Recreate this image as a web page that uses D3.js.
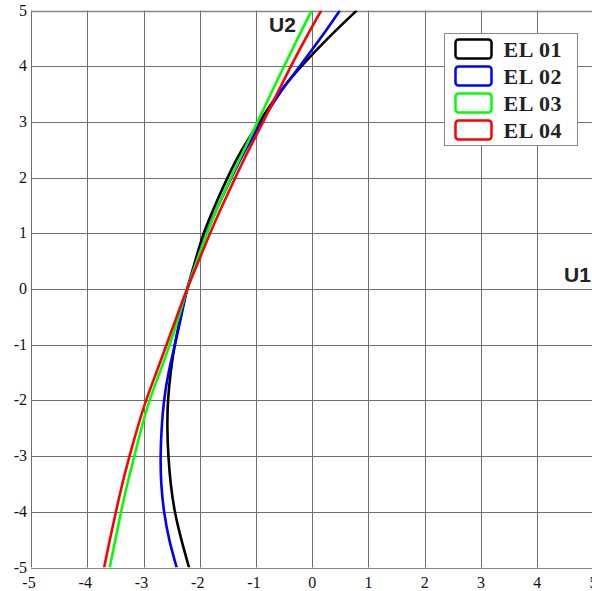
<!DOCTYPE html>
<html>
<head>
<meta charset="utf-8">
<script src="https://cdn.jsdelivr.net/npm/d3@7"></script>
<style>
  body { margin: 0; background: #fff; }
  svg { display: block; }
</style>
</head>
<body>
<div id="chart"></div>
<script>
const yLevels = [-5, -4.5, -4, -3.5, -3, -2.5, -2, -1.5, -1, -0.5, 0, 0.5, 1, 1.5, 2, 2.5, 3, 3.5, 4, 4.5, 5];
const el01 = [-2.19, -2.33, -2.45, -2.52, -2.56, -2.58, -2.57, -2.52, -2.45, -2.34, -2.23, -2.08, -1.94, -1.73, -1.51, -1.26, -0.94, -0.62, -0.20, 0.27, 0.79];
const el02 = [-2.41, -2.55, -2.64, -2.69, -2.70, -2.68, -2.64, -2.56, -2.44, -2.33, -2.23, -2.06, -1.89, -1.67, -1.44, -1.19, -0.90, -0.60, -0.22, 0.15, 0.49];
const el03 = [-3.60, -3.50, -3.40, -3.29, -3.16, -3.04, -2.90, -2.71, -2.53, -2.37, -2.23, -2.05, -1.88, -1.67, -1.45, -1.21, -0.97, -0.74, -0.50, -0.26, -0.01];
const el04 = [-3.70, -3.60, -3.49, -3.38, -3.25, -3.11, -2.96, -2.77, -2.59, -2.41, -2.23, -2.02, -1.82, -1.60, -1.37, -1.13, -0.87, -0.63, -0.38, -0.12, 0.16];
const seriesNames = ["EL 01", "EL 02", "EL 03", "EL 04"];
const seriesColors = ["#000000", "#0000ff", "#00ff00", "#ff0000"];
const xTicks = [-5, -4, -3, -2, -1, 0, 1, 2, 3, 4, 5];
const yTicks = [-5, -4, -3, -2, -1, 0, 1, 2, 3, 4, 5];

const width = 592, height = 591;
const margin = { top: 10.5, right: -1.5, bottom: 23.5, left: 31 };

const svg = d3.select("#chart").append("svg")
    .attr("width", width)
    .attr("height", height);

const x = d3.scaleLinear().domain([-5, 5]).range([margin.left, width - margin.right]);
const y = d3.scaleLinear().domain([-5, 5]).range([height - margin.bottom, margin.top]);

// grid
svg.append("g")
    .selectAll("line")
    .data(xTicks)
    .join("line")
    .attr("x1", d => Math.round(x(d)) + 0.5).attr("x2", d => Math.round(x(d)) + 0.5)
    .attr("y1", y(5)).attr("y2", y(-5))
    .attr("stroke", "#6e6e6e").attr("stroke-width", 1);
svg.append("g")
    .selectAll("line")
    .data(yTicks)
    .join("line")
    .attr("y1", d => Math.round(y(d)) + 0.5).attr("y2", d => Math.round(y(d)) + 0.5)
    .attr("x1", x(-5)).attr("x2", x(5))
    .attr("stroke", d => (d === 5 || d === -5) ? "#888" : "#6e6e6e")
    .attr("stroke-width", d => (d === 5) ? 1.5 : 1);

// tick labels
svg.append("g")
    .attr("font-family", "'Liberation Serif', 'Times New Roman', serif")
    .attr("font-size", 16)
    .attr("fill", "#111")
    .attr("text-anchor", "middle")
    .selectAll("text")
    .data(xTicks)
    .join("text")
    .attr("x", d => x(d) - (d < 0 ? 2 : 0))
    .attr("y", 588)
    .text(d => d);
svg.append("g")
    .attr("font-family", "'Liberation Serif', 'Times New Roman', serif")
    .attr("font-size", 16)
    .attr("fill", "#111")
    .attr("text-anchor", "end")
    .selectAll("text")
    .data(yTicks)
    .join("text")
    .attr("x", 27)
    .attr("y", d => y(d) + 5)
    .text(d => d);

// curves
svg.append("clipPath").attr("id", "plot-clip")
    .append("rect")
    .attr("x", x(-5)).attr("y", y(5))
    .attr("width", x(5) - x(-5)).attr("height", y(-5) - y(5));

const line = d3.line()
    .x(d => x(d[0]))
    .y(d => y(d[1]))
    .curve(d3.curveBasis);

const seriesData = [el01, el02, el03, el04];
svg.append("g")
    .attr("clip-path", "url(#plot-clip)")
    .selectAll("path")
    .data(seriesData)
    .join("path")
    .attr("d", vals => line(vals.map((v, i) => [v, yLevels[i]])))
    .attr("fill", "none")
    .attr("stroke", (d, i) => seriesColors[i])
    .attr("stroke-width", 2.6)
    .attr("stroke-linejoin", "round");

// axis names
svg.append("text")
    .attr("x", 269).attr("y", 32)
    .attr("font-family", "'Liberation Sans', Arial, sans-serif")
    .attr("font-weight", "bold")
    .attr("font-size", 21)
    .attr("fill", "#222")
    .text("U2");
svg.append("text")
    .attr("x", 564).attr("y", 282)
    .attr("font-family", "'Liberation Sans', Arial, sans-serif")
    .attr("font-weight", "bold")
    .attr("font-size", 21)
    .attr("fill", "#222")
    .text("U1");

// legend
const legend = svg.append("g").attr("transform", "translate(444.5,33.5)");
legend.append("rect")
    .attr("width", 133).attr("height", 112)
    .attr("fill", "#fff").attr("stroke", "#888");
const rows = legend.selectAll("g.row")
    .data(seriesNames)
    .join("g")
    .attr("class", "row")
    .attr("transform", (d, i) => `translate(0,${6 + i * 27})`);
rows.append("rect")
    .attr("x", 11).attr("y", 0)
    .attr("width", 36).attr("height", 19)
    .attr("rx", 3)
    .attr("fill", "#fff")
    .attr("stroke", (d, i) => seriesColors[i])
    .attr("stroke-width", 2.5);
rows.append("text")
    .attr("x", 59).attr("y", 17)
    .attr("font-family", "'Liberation Serif', 'Times New Roman', serif")
    .attr("font-weight", "bold")
    .attr("font-size", 22)
    .attr("letter-spacing", 0.6)
    .attr("fill", "#222")
    .text(d => d);
</script>
</body>
</html>
